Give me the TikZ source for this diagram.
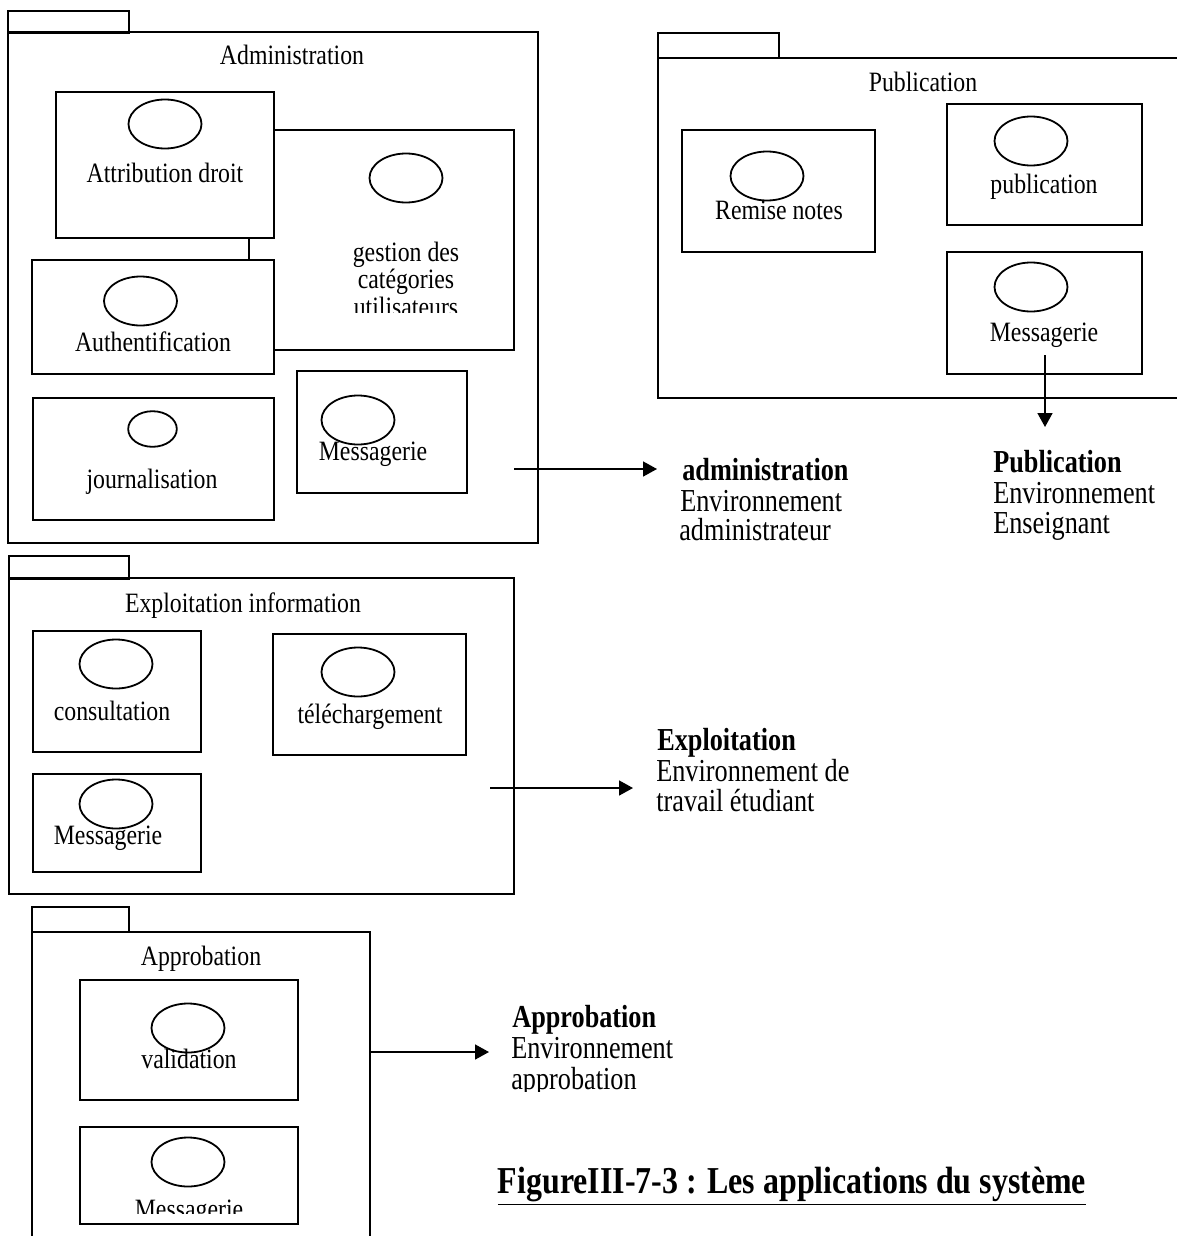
\documentclass[tikz,border=0pt]{standalone}
\usepackage{fontspec}
\setmainfont{Liberation Serif}
\usepackage{tikz}
\usetikzlibrary{arrows.meta,shapes,positioning}
\tikzstyle{cadre}=[line width=0.9pt]
\tikzstyle{boite}=[rectangle, draw, fill=white, line width=0.9pt,
                   inner sep=0pt, outer sep=0pt]
\tikzstyle{cas}=[ellipse, draw, line width=0.9pt,
                 minimum width=36.5pt, minimum height=24.5pt,
                 inner sep=0pt]
\tikzstyle{nomcas}=[anchor=base, xscale=0.85, inner sep=0pt,
                    font=\fontsize{14}{16}\selectfont]
\tikzstyle{titre}=[nomcas]
\tikzstyle{etiq}=[anchor=base west, xscale=0.82, inner sep=0pt,
                  font=\fontsize{16}{18}\selectfont]
\tikzstyle{etiqg}=[etiq, font=\bfseries\fontsize{16}{18}\selectfont]
\tikzstyle{fleche}=[-{Triangle[length=7pt,width=7.5pt]},
                    line width=0.8pt]

\begin{document}
\begin{tikzpicture}[x=0.5pt,y=-0.5pt]
    \useasboundingbox (0,0) rectangle (1177,1236);

    % les quatre paquets (onglet + corps)
    \draw[cadre] (8,11) rectangle (129,33);
    \draw[cadre] (8,32) rectangle (538,543);
    \draw[cadre] (658,33) rectangle (779,58);
    \draw[cadre] (1177,58) -- (658,58) -- (658,398) -- (1177,398);
    \draw[cadre] (9,556) rectangle (129,579);
    \draw[cadre] (9,578) rectangle (514,894);
    \draw[cadre] (32,907) rectangle (129,932);
    \draw[cadre] (32,1236) -- (32,932) -- (370,932) -- (370,1236);

    \node[titre] (tAdm) at (292,65) {Administration};
    \node[titre] (tPub) at (923,91) {Publication};
    \node[titre] (tExp) at (243,612) {Exploitation information};
    \node[titre] (tApp) at (201,965) {Approbation};

    % boites des applications (gest passe sous attr et auth)
    \foreach \n/\x/\y/\w/\h in {gest/381.5/240/265/220, attr/165/165/218/146,
        auth/153/317/242/114, journ/153.5/459/241/122, messA/382/432/170/122,
        rem/778.5/191/193/122, pub/1044.5/164.5/195/121, messP/1044.5/313/195/122,
        cons/117/691.5/168/121, tele/369.5/694.5/193/121, messE/117/823/168/98,
        valid/189/1040/218/120, messV/189/1175.5/218/97}
        \node[boite, minimum width=\w*0.5pt, minimum height=\h*0.5pt] (\n) at (\x,\y) {};

    \foreach \n/\x/\y in {attr/165/124, gest/406/178, auth/140.5/301,
        messA/358/420, rem/767/176, pub/1031/141, messP/1031/287,
        cons/116/664, tele/358/672, messE/116/804, valid/188/1028, messV/188/1162}
        \node[cas] (c\n) at (\x,\y) {};
    \node[cas, minimum width=24.3pt, minimum height=17.8pt] (cjourn) at (152.5,429) {};

    \node[nomcas] (tattr) at (165,182) {Attribution droit};
    \node[nomcas] (tgest1) at (406,261) {gestion des};
    \node[nomcas] (tgest2) at (406,288) {catégories};
    \begin{scope}
        \clip (280,290) rectangle (510,312);
        \node[nomcas] (tgest3) at (406,316) {utilisateurs};
    \end{scope}
    \node[nomcas] (tauth) at (153,351) {Authentification};
    \node[nomcas] (tjourn) at (152,488) {journalisation};
    \node[nomcas] (tmessA) at (373,460) {Messagerie};
    \node[nomcas] (trem) at (779,219) {Remise notes};
    \node[nomcas] (tpub) at (1044,193) {publication};
    \node[nomcas] (tmessP) at (1044,341) {Messagerie};
    \node[nomcas] (tcons) at (112,720) {consultation};
    \node[nomcas] (ttele) at (370,723) {téléchargement};
    \node[nomcas] (tmessE) at (108,844) {Messagerie};
    \node[nomcas] (tvalid) at (189,1068) {validation};
    \begin{scope}
        \clip (85,1190) rectangle (295,1213);
        \node[nomcas] (tmessV) at (189,1218) {Messagerie};
    \end{scope}

    % environnements
    \node[etiqg] (eAdm1) at (682,480) {administration};
    \node[etiq] (eAdm2) at (680,511) {Environnement};
    \node[etiq] (eAdm3) at (679,540) {administrateur};
    \node[etiqg] (ePub1) at (993,472) {Publication};
    \node[etiq] (ePub2) at (993,503) {Environnement};
    \node[etiq] (ePub3) at (993,533) {Enseignant};
    \node[etiqg] (eExp1) at (657,750) {Exploitation};
    \node[etiq] (eExp2) at (656,781) {Environnement de};
    \node[etiq] (eExp3) at (656,811) {travail étudiant};
    \node[etiqg] (eApp1) at (512,1027) {Approbation};
    \node[etiq] (eApp2) at (511,1058) {Environnement};
    \begin{scope}
        \clip (505,1065) rectangle (700,1091);
        \node[etiq] (eApp3) at (511,1089) {approbation};
    \end{scope}

    \coordinate (sAdm) at (514,469);
    \coordinate (fAdm) at (657,469);
    \coordinate (sPub) at (1045,355);
    \coordinate (fPub) at (1045,427);
    \coordinate (sExp) at (490,788);
    \coordinate (fExp) at (633,788);
    \coordinate (sApp) at (370,1052);
    \coordinate (fApp) at (489,1052);
    \foreach \a/\b in {sAdm/fAdm, sPub/fPub, sExp/fExp, sApp/fApp}
        \draw[fleche] (\a) -- (\b);

    \node[anchor=base, xscale=0.84, inner sep=0pt,
          font=\bfseries\fontsize{19}{21}\selectfont] (legende) at (792,1193)
          {\underline{FigureIII-7-3 : Les applications du système}};
\end{tikzpicture}
\end{document}
